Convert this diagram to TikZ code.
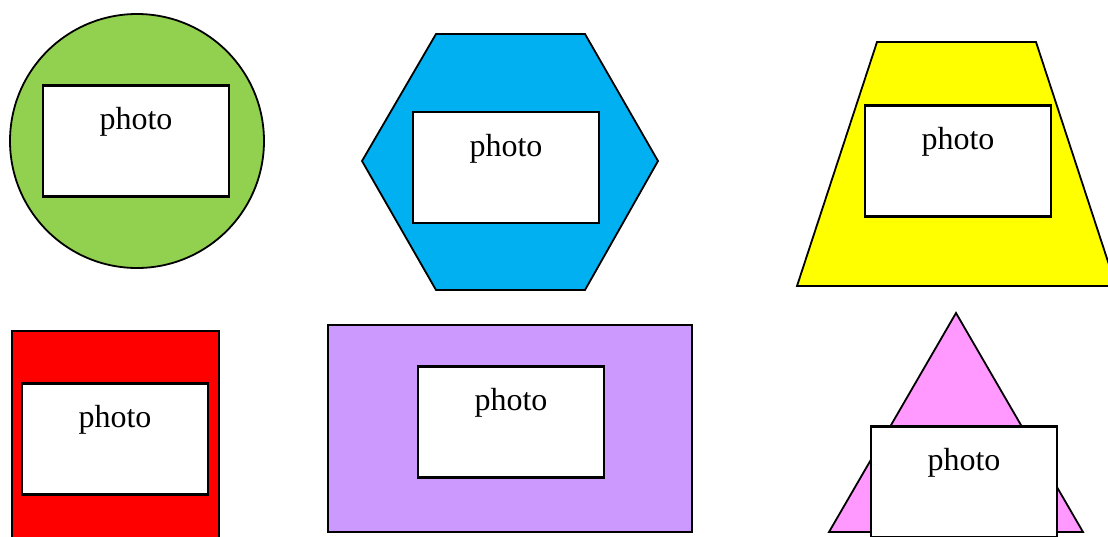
\documentclass[tikz,border=0pt]{standalone}
\usepackage{fontspec}
\setmainfont{Liberation Serif}
\definecolor{ShapeGreen}{RGB}{146, 208, 80}
\definecolor{ShapeBlue}{RGB}{0, 176, 240}
\definecolor{ShapeYellow}{RGB}{255, 255, 0}
\definecolor{ShapeRed}{RGB}{255, 0, 0}
\definecolor{ShapePurple}{RGB}{204, 153, 255}
\definecolor{ShapePink}{RGB}{255, 153, 255}
\usepackage{tikz}
\usetikzlibrary{positioning}
\tikzset{
  shp/.style={draw=black, fill=#1, line width=1.8pt, line join=miter},
  phototext/.style={anchor=north, yshift=-20pt, inner sep=3pt,
                    font=\fontsize{32}{36}\selectfont, text=black},
  photobox/.style={rectangle, draw=black, fill=white, line width=2.2pt,
                   minimum width=186pt, minimum height=111pt, inner sep=0pt,
                   label={[phototext]north:photo}},
}

\begin{document}
\begin{tikzpicture}[x=1pt, y=-1pt]
      \useasboundingbox (0,0) rectangle (1108,536);

      % Top row
      \draw[shp=ShapeGreen] (137,141) circle (127);
      \node[photobox] (pcircle) at (136,141) {};

      \draw[shp=ShapeBlue] (436,34) -- (585,34) -- (658,161) -- (585,290)
            -- (436,290) -- (362,161) -- cycle;
      \node[photobox] (phex) at (506,167.5) {};

      \draw[shp=ShapeYellow] (877,42) -- (1036,42) -- (1116,286) -- (797,286) -- cycle;
      \node[photobox] (ptrap) at (958,161) {};

      % Bottom row
      \draw[shp=ShapeRed] (12,331) rectangle (219,560);
      \node[photobox] (prect) at (115,439) {};

      \draw[shp=ShapePurple] (328,325) rectangle (692,532);
      \node[photobox] (pwide) at (511,422) {};

      \draw[shp=ShapePink] (956,313) -- (1083,532) -- (829,532) -- cycle;
      \node[photobox] (ptri) at (964,482) {};
    \end{tikzpicture}
\end{document}
